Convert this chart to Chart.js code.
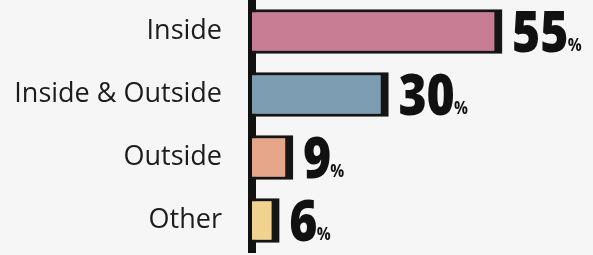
<!DOCTYPE html>
<html>
<head>
<meta charset="utf-8">
<script src="https://cdn.jsdelivr.net/npm/chart.js@4/dist/chart.umd.min.js"></script>
<style>
html,body{margin:0;padding:0;background:#f6f6f6;}
#wrap{width:593px;height:255px;position:relative;}
</style>
</head>
<body>
<div id="wrap"><canvas id="c" width="593" height="255"></canvas></div>
<script>
const categories = ["Inside", "Inside & Outside", "Outside", "Other"];
const percentValues = [55, 30, 9, 6];
const barColors = ["#c97d94", "#7d9db3", "#e5a68a", "#f1d38f"];
const valueSuffix = "%";

const valueLabels = {
  id: 'valueLabels',
  afterDatasetsDraw(chart) {
    const ctx = chart.ctx;
    const meta = chart.getDatasetMeta(0);
    meta.data.forEach((bar, i) => {
      const txt = String(percentValues[i]);
      const x = bar.x + 10;
      const base = bar.y + 20;
      ctx.save();
      ctx.fillStyle = '#111';
      ctx.textBaseline = 'alphabetic';
      ctx.textAlign = 'left';
      ctx.font = '800 56px "Open Sans"';
      ctx.translate(x, base);
      ctx.scale(0.86, 1);
      ctx.fillText(txt, 0, 0);
      const w = ctx.measureText(txt).width;
      ctx.font = 'bold 18px "Open Sans"';
      ctx.fillText(valueSuffix, w - 1, -1);
      ctx.restore();
    });
  }
};

new Chart(document.getElementById('c'), {
  type: 'bar',
  data: {
    labels: categories,
    datasets: [{
      data: percentValues,
      backgroundColor: barColors,
      borderColor: '#151515',
      borderWidth: {top: 3, bottom: 3, left: 0, right: 8},
      borderSkipped: false,
      barThickness: 44
    }]
  },
  options: {
    indexAxis: 'y',
    responsive: false,
    animation: false,
    events: [],
    layout: {padding: {top: 0, bottom: 3, left: 0, right: 0}},
    plugins: {legend: {display: false}, tooltip: {enabled: false}},
    scales: {
      x: {display: false, min: 0, max: 75},
      y: {
        z: 1,
        afterFit(scale) { scale.width = 252; scale.paddingTop = 0; scale.paddingBottom = 0; },
        grid: {display: false, drawTicks: false},
        border: {display: true, color: '#111', width: 8},
        ticks: {
          padding: 30,
          color: '#1c1c1c',
          font: {family: '"Open Sans"', size: 27}
        }
      }
    }
  },
  plugins: [valueLabels]
});
</script>
</body>
</html>
